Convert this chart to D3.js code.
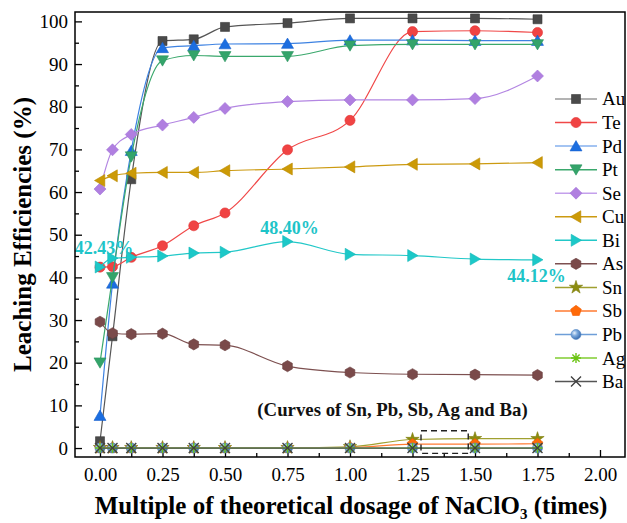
<!DOCTYPE html>
<html>
<head>
<meta charset="utf-8">
<script src="https://cdn.jsdelivr.net/npm/d3@7/dist/d3.min.js"></script>
<style>
  html, body { margin: 0; padding: 0; background: #fff; }
  svg { display: block; }
  text { font-family: "Liberation Serif", "Times New Roman", serif; }
</style>
</head>
<body>
<svg id="chart" width="627" height="523"></svg>
<script>
// ---------------- DATA ----------------
const dosage = [0, 0.05, 0.125, 0.25, 0.375, 0.5, 0.75, 1.0, 1.25, 1.5, 1.75];
const xTickValues = [0, 0.25, 0.5, 0.75, 1.0, 1.25, 1.5, 1.75, 2.0];
const yTickValues = [0, 10, 20, 30, 40, 50, 60, 70, 80, 90, 100];

const Au = [1.6, 26.2, 63.0, 95.4, 95.8, 98.7, 99.6, 100.7, 100.7, 100.7, 100.5];
const Te = [42.4, 42.5, 44.7, 47.4, 52.1, 55.1, 69.9, 76.8, 97.6, 97.8, 97.4];
const Pd = [7.6, 38.6, 69.7, 93.8, 94.3, 94.7, 94.8, 95.6, 95.6, 95.5, 95.5];
const Pt = [20.0, 40.0, 68.3, 90.8, 92.0, 91.8, 91.8, 94.3, 94.6, 94.6, 94.6];
const Se = [60.7, 69.9, 73.5, 75.7, 77.5, 79.6, 81.2, 81.6, 81.6, 81.9, 87.2];
const Cu = [62.7, 63.8, 64.4, 64.6, 64.6, 65.0, 65.4, 65.9, 66.5, 66.6, 66.9];
const Bi = [42.43, 44.5, 44.7, 45.0, 45.7, 45.9, 48.40, 45.4, 45.1, 44.3, 44.12];
const As = [29.6, 26.9, 26.7, 26.8, 24.3, 24.1, 19.2, 17.7, 17.3, 17.2, 17.1];
const Sn = [0.1, 0.1, 0.1, 0.1, 0.1, 0.1, 0.1, 0.3, 2.0, 2.2, 2.2];
const Sb = [0, 0, 0, 0, 0, 0, 0, 0.1, 0.9, 0.9, 1.0];
const Pb = [0, 0, 0, 0, 0, 0, 0, 0, 0, 0, 0];
const Ag = [0, 0, 0, 0, 0, 0, 0, 0, 0, 0, 0];
const Ba = [0, 0, 0, 0, 0, 0, 0, 0, 0, 0, 0];

const seriesNames = ["Au", "Te", "Pd", "Pt", "Se", "Cu", "Bi", "As", "Sn", "Sb", "Pb", "Ag", "Ba"];
const seriesValues = [Au, Te, Pd, Pt, Se, Cu, Bi, As, Sn, Sb, Pb, Ag, Ba];

// labelled values: [dosage, value, text]
const biLabels = [[0, 42.43, "42.43%"], [0.75, 48.40, "48.40%"], [1.75, 44.12, "44.12%"]];
const noteText = "(Curves of Sn, Pb, Sb, Ag and Ba)";
const zoomBox = [1.284, 1.473, 4.05, -1.25]; // x0, x1, yTop, yBottom in data units

// ---------------- STYLE ----------------
const styles = {
  Au: { marker: "square",   fill: "#4a4a4a", stroke: "#3a3a3a", line: "#555555", legendLine: "#9a9a9a" },
  Te: { marker: "circle",   fill: "#f04343", stroke: "#e03030", line: "#f04848", legendLine: "#f04848" },
  Pd: { marker: "triUp",    fill: "#1c6ee0", stroke: "#1560cc", line: "#3d82e2", legendLine: "#86b1ee" },
  Pt: { marker: "triDown",  fill: "#34a46a", stroke: "#2a9460", line: "#3aa86c", legendLine: "#3aa86c" },
  Se: { marker: "diamond",  fill: "#b07fe0", stroke: "#a070d6", line: "#b386e2", legendLine: "#c4a0ec" },
  Cu: { marker: "triLeft",  fill: "#cc9a06", stroke: "#bb8a00", line: "#cc9a10", legendLine: "#cc9a10" },
  Bi: { marker: "triRight", fill: "#1cc8c8", stroke: "#12b8b8", line: "#22c8c8", legendLine: "#22c8c8" },
  As: { marker: "hexagon",  fill: "#7a4a4a", stroke: "#6a3e3e", line: "#7d5050", legendLine: "#7d5050" },
  Sn: { marker: "star",     fill: "#8c8c10", stroke: "#7c7c08", line: "#a0a030", legendLine: "#a0a030" },
  Sb: { marker: "pentagon", fill: "#ff6a08", stroke: "#f05a00", line: "#ff7a30", legendLine: "#ff7a30" },
  Pb: { marker: "sphere",   fill: "url(#pbGrad)", stroke: "#4f84c4", line: "#6e9ed8", legendLine: "#6e9ed8" },
  Ag: { marker: "asterisk", fill: "none", stroke: "#6cc414", line: "#80cc30", legendLine: "#80cc30" },
  Ba: { marker: "times",    fill: "none", stroke: "#404040", line: "#555555", legendLine: "#555555" }
};

// ---------------- LAYOUT ----------------
const plot = { left: 75, right: 625, top: 12, bottom: 457 };
const svg = d3.select("#chart");

const x = d3.scaleLinear().domain([-0.1, 2.1]).range([plot.left, plot.right]);
const y = d3.scaleLinear().domain([-2.1, 102.2]).range([plot.bottom, plot.top]);

const defs = svg.append("defs");
const g = defs.append("radialGradient").attr("id", "pbGrad")
  .attr("cx", "35%").attr("cy", "35%").attr("r", "65%");
g.append("stop").attr("offset", "0%").attr("stop-color", "#e6f0fb");
g.append("stop").attr("offset", "45%").attr("stop-color", "#7aa8dc");
g.append("stop").attr("offset", "100%").attr("stop-color", "#3d6fb0");

defs.append("clipPath").attr("id", "plotClip").append("rect")
  .attr("x", plot.left).attr("y", plot.top)
  .attr("width", plot.right - plot.left).attr("height", plot.bottom - plot.top);

function polygon(n, r, rot) {
  const pts = [];
  for (let i = 0; i < n; i++) {
    const a = rot + i * 2 * Math.PI / n;
    pts.push([r * Math.cos(a), r * Math.sin(a)]);
  }
  return "M" + pts.map(p => p[0].toFixed(2) + "," + p[1].toFixed(2)).join("L") + "Z";
}
function markerPath(type) {
  switch (type) {
    case "square": return "M-4.5,-4.5H4.5V4.5H-4.5Z";
    case "circle": return d3.symbol(d3.symbolCircle, 80)();
    case "triUp": return "M0,-5.5L6,4.8L-6,4.8Z";
    case "triDown": return "M0,5.5L6,-4.8L-6,-4.8Z";
    case "triLeft": return "M-5.5,0L4.8,-6L4.8,6Z";
    case "triRight": return "M5.5,0L-4.8,-6L-4.8,6Z";
    case "diamond": return "M0,-6L6,0L0,6L-6,0Z";
    case "hexagon": return polygon(6, 5.6, -Math.PI / 2);
    case "star": return d3.symbol(d3.symbolStar, 55)();
    case "pentagon": return polygon(5, 5.6, -Math.PI / 2);
    case "sphere": return d3.symbol(d3.symbolCircle, 78)();
    case "asterisk": return "M-5,0H5M0,-5V5M-3.6,-3.6L3.6,3.6M-3.6,3.6L3.6,-3.6";
    case "times": return "M-5,-5L5,5M-5,5L5,-5";
  }
}

// ---------------- AXES ----------------
const xMajor = d3.axisBottom(x).tickValues(xTickValues).tickFormat(d3.format(".2f"))
  .tickSizeInner(-7).tickSizeOuter(0).tickPadding(11);
const xMinor = d3.axisBottom(x).tickValues(d3.range(0.125, 2.1, 0.25)).tickFormat("")
  .tickSizeInner(-4).tickSizeOuter(0);
const yMajor = d3.axisLeft(y).tickValues(yTickValues).tickFormat(d3.format("d"))
  .tickSizeInner(-7).tickSizeOuter(0).tickPadding(7);
const yMinor = d3.axisLeft(y).tickValues(d3.range(5, 101, 10)).tickFormat("")
  .tickSizeInner(-4).tickSizeOuter(0);

function styleAxis(sel) {
  sel.select(".domain").remove();
  sel.selectAll(".tick line").attr("stroke", "#000").attr("stroke-width", 1.3);
  sel.selectAll(".tick text").attr("fill", "#000")
    .style("font-family", '"Liberation Serif", "Times New Roman", serif').style("font-size", "19px");
}
svg.append("g").attr("transform", `translate(0,${plot.bottom})`).call(xMajor).call(styleAxis);
svg.append("g").attr("transform", `translate(0,${plot.bottom})`).call(xMinor).call(styleAxis);
svg.append("g").attr("transform", `translate(${plot.left},0)`).call(yMajor).call(styleAxis);
svg.append("g").attr("transform", `translate(${plot.left},0)`).call(yMinor).call(styleAxis);

// ---------------- SERIES ----------------
const line = d3.line().x(d => x(d[0])).y(d => y(d[1])).curve(d3.curveMonotoneX);
const layer = svg.append("g").attr("clip-path", "url(#plotClip)");

seriesNames.forEach((name, i) => {
  const st = styles[name];
  const pts = dosage.map((d, j) => [d, seriesValues[i][j]]);
  layer.append("path").attr("d", line(pts)).attr("fill", "none")
    .attr("stroke", st.line).attr("stroke-width", 1.2);
  const isStroke = st.fill === "none";
  layer.append("g").selectAll("path").data(pts).join("path")
    .attr("d", markerPath(st.marker))
    .attr("transform", d => `translate(${x(d[0])},${y(d[1])})`)
    .attr("fill", st.fill)
    .attr("stroke", st.stroke)
    .attr("stroke-width", isStroke ? 1.4 : 0.6);
});

// ---------------- ANNOTATIONS ----------------
svg.append("g").selectAll("text").data(biLabels).join("text")
  .attr("x", d => x(d[0]))
  .attr("y", d => y(d[1]))
  .attr("dx", (d, i) => [4, 2, -1][i])
  .attr("dy", (d, i) => [-13, -8, 22][i])
  .attr("text-anchor", "middle")
  .attr("fill", "#1ec4c8")
  .style("font-weight", "bold").style("font-size", "18px")
  .text(d => d[2]);

svg.append("text")
  .attr("x", x(1.17)).attr("y", y(7.5))
  .attr("text-anchor", "middle")
  .style("font-weight", "bold").style("font-size", "18.8px")
  .attr("fill", "#111")
  .text(noteText);

svg.append("rect")
  .attr("x", x(zoomBox[0])).attr("y", y(zoomBox[2]))
  .attr("width", x(zoomBox[1]) - x(zoomBox[0]))
  .attr("height", y(zoomBox[3]) - y(zoomBox[2]))
  .attr("fill", "none").attr("stroke", "#222").attr("stroke-width", 1.4)
  .attr("stroke-dasharray", "6,4");

// ---------------- FRAME ----------------
svg.append("rect")
  .attr("x", plot.left).attr("y", plot.top)
  .attr("width", plot.right - plot.left).attr("height", plot.bottom - plot.top)
  .attr("fill", "none").attr("stroke", "#000").attr("stroke-width", 1.5);

// ---------------- LEGEND ----------------
const legend = svg.append("g");
const legX0 = 555, legX1 = 597, legMarkX = 576, legTextX = 602, legY0 = 99, legStep = 23.55;
seriesNames.forEach((name, i) => {
  const st = styles[name];
  const yy = legY0 + i * legStep;
  legend.append("line").attr("x1", legX0).attr("x2", legX1).attr("y1", yy).attr("y2", yy)
    .attr("stroke", st.legendLine).attr("stroke-width", 1.5);
  legend.append("path").attr("d", markerPath(st.marker))
    .attr("transform", `translate(${legMarkX},${yy})`)
    .attr("fill", st.fill).attr("stroke", st.stroke)
    .attr("stroke-width", st.fill === "none" ? 1.4 : 0.6);
  legend.append("text").attr("x", legTextX).attr("y", yy).attr("dy", "0.34em")
    .style("font-size", "19px").attr("fill", "#000").text(name);
});

// ---------------- AXIS TITLES ----------------
const xt = svg.append("text")
  .attr("x", (plot.left + plot.right) / 2 + 1).attr("y", 514)
  .attr("text-anchor", "middle")
  .style("font-weight", "bold").style("font-size", "25px").attr("fill", "#000");
xt.append("tspan").text("Multiple of theoretical dosage of NaClO");
xt.append("tspan").attr("dy", 5).style("font-size", "15px").text("3");
xt.append("tspan").attr("dy", -5).text(" (times)");

svg.append("text")
  .attr("transform", `translate(31,${(plot.top + plot.bottom) / 2}) rotate(-90)`)
  .attr("text-anchor", "middle")
  .style("font-weight", "bold").style("font-size", "25px").attr("fill", "#000")
  .text("Leaching Efficiencies (%)");
</script>
</body>
</html>
